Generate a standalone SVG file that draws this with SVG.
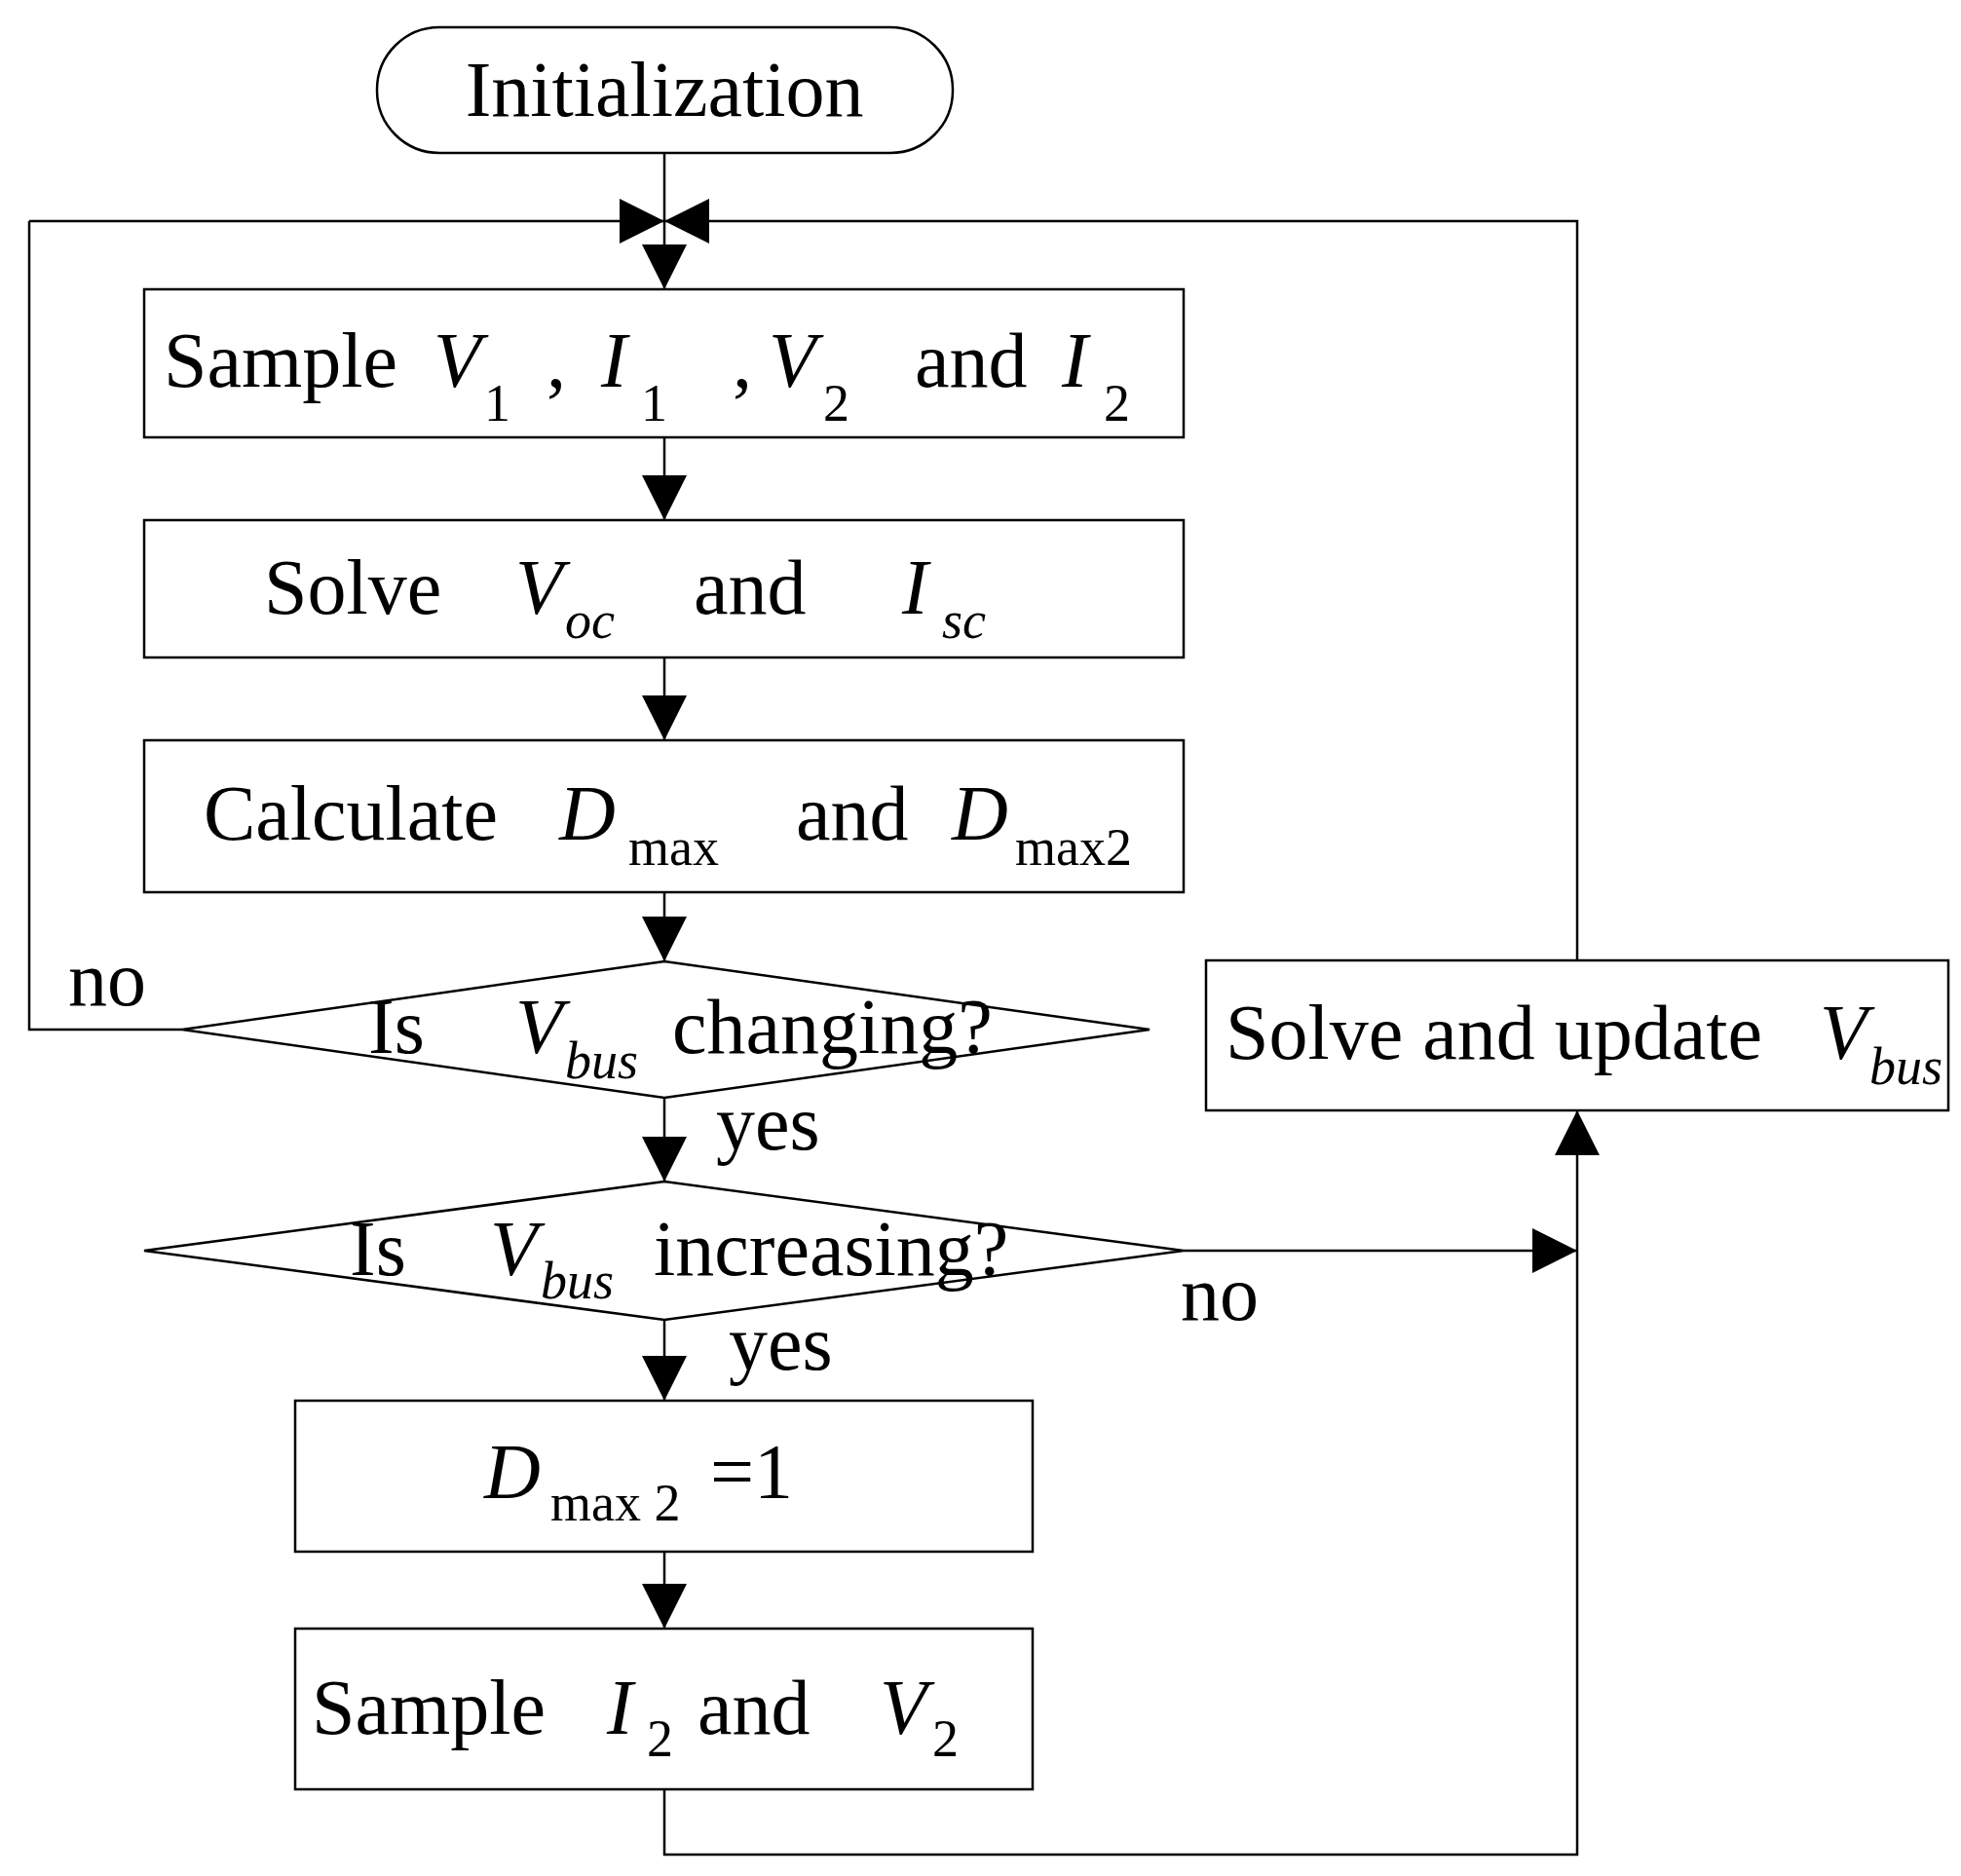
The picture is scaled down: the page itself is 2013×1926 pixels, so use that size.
<svg xmlns="http://www.w3.org/2000/svg" width="2013" height="1926" viewBox="0 0 2013 1926">
<style>
.b{fill:#fff;stroke:#000;stroke-width:2.5}
.c{fill:none;stroke:#000;stroke-width:2.5}
text{font-family:"Liberation Serif","Times New Roman",serif;font-size:80px;fill:#000}
.i{font-style:italic}
.s{font-size:54px}
</style>
<defs><marker id="a" markerWidth="46" markerHeight="46" refX="46" refY="23" orient="auto" markerUnits="userSpaceOnUse"><path d="M0,0L46,23L0,46Z" fill="#000"/></marker></defs>
<rect width="2013" height="1926" fill="#fff"/>
<g id="connectors">
<path class="c" d="M682,157V297" marker-end="url(#a)"/>
<path class="c" d="M30,227H682" marker-end="url(#a)"/>
<path class="c" d="M1619,986V227H682" marker-end="url(#a)"/>
<path class="c" d="M187,1057H30V227"/>
<path class="c" d="M682,449V534" marker-end="url(#a)"/>
<path class="c" d="M682,675V760" marker-end="url(#a)"/>
<path class="c" d="M682,916V987" marker-end="url(#a)"/>
<path class="c" d="M682,1127V1213" marker-end="url(#a)"/>
<path class="c" d="M682,1355V1438" marker-end="url(#a)"/>
<path class="c" d="M682,1593V1672" marker-end="url(#a)"/>
<path class="c" d="M1215,1284H1619" marker-end="url(#a)"/>
<path class="c" d="M682,1837V1904H1619V1140" marker-end="url(#a)"/>
<text x="70" y="1032">no</text>
<text x="735" y="1180">yes</text>
<text x="1212" y="1355">no</text>
<text x="748" y="1406">yes</text>
</g>
<g id="init"><rect class="b" x="387" y="28" width="591" height="129" rx="64"/><text x="682" y="119" text-anchor="middle">Initialization</text></g>
<g id="sample1"><rect class="b" x="148" y="297" width="1067" height="152"/>
<text x="168" y="397">Sample</text><text class="i" x="445" y="397">V</text><text class="s" x="497" y="432">1</text><text x="561" y="397">,</text><text class="i" x="617" y="397">I</text><text class="s" x="658" y="432">1</text><text x="752" y="397">,</text><text class="i" x="789" y="397">V</text><text class="s" x="845" y="432">2</text><text x="939" y="397">and</text><text class="i" x="1090" y="397">I</text><text class="s" x="1133" y="432">2</text></g>
<g id="solve"><rect class="b" x="148" y="534" width="1067" height="141"/>
<text x="271" y="630">Solve</text><text class="i" x="529" y="630">V</text><text class="s i" x="580" y="655">oc</text><text x="712" y="630">and</text><text class="i" x="926" y="630">I</text><text class="s i" x="967" y="655">sc</text></g>
<g id="calc"><rect class="b" x="148" y="760" width="1067" height="156"/>
<text x="209" y="862">Calculate</text><text class="i" x="574" y="862">D</text><text class="s" x="645" y="888">max</text><text x="817" y="862">and</text><text class="i" x="977" y="862">D</text><text class="s" x="1042" y="888">max2</text></g>
<g id="dec1"><path class="b" d="M187,1057L682,987L1180,1057L682,1127Z"/>
<text x="378" y="1081">Is</text><text class="i" x="529" y="1081">V</text><text class="s i" x="580" y="1107">bus</text><text x="690" y="1081">changing?</text></g>
<g id="dec2"><path class="b" d="M148,1284L682,1213L1215,1284L682,1355Z"/>
<text x="359" y="1309">Is</text><text class="i" x="503" y="1309">V</text><text class="s i" x="555" y="1333">bus</text><text x="671" y="1309">increasing?</text></g>
<g id="setd"><rect class="b" x="303" y="1438" width="757" height="155"/>
<text class="i" x="497" y="1538">D</text><text class="s" x="565" y="1561">max 2</text><text x="729" y="1538">=1</text></g>
<g id="sample2"><rect class="b" x="303" y="1672" width="757" height="165"/>
<text x="320" y="1780">Sample</text><text class="i" x="623" y="1780">I</text><text class="s" x="664" y="1803">2</text><text x="716" y="1780">and</text><text class="i" x="903" y="1780">V</text><text class="s" x="957" y="1803">2</text></g>
<g id="update"><rect class="b" x="1238" y="986" width="762" height="154"/>
<text x="1258" y="1087">Solve and update</text><text class="i" x="1868" y="1087">V</text><text class="s i" x="1919" y="1113">bus</text></g>
</svg>
